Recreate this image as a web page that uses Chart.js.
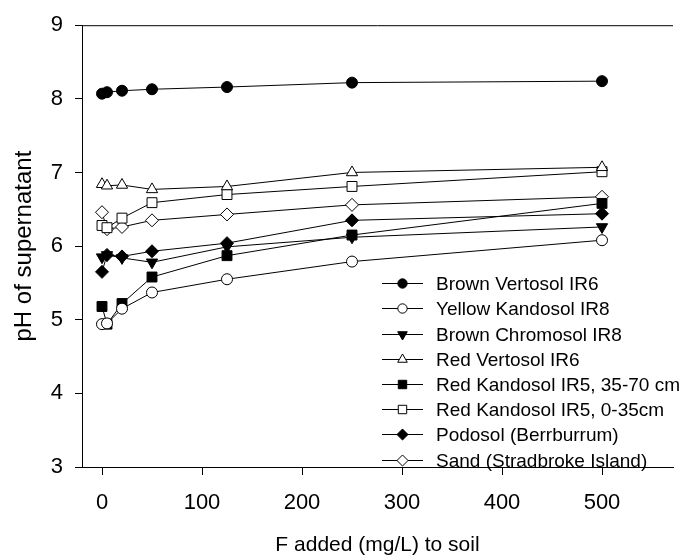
<!DOCTYPE html>
<html>
<head>
<meta charset="utf-8">
<script src="https://cdn.jsdelivr.net/npm/chart.js@4/dist/chart.umd.min.js"></script>
<style>
    html, body { margin: 0; padding: 0; background: #fff; }
    #wrap { width: 691px; height: 558px; }
</style>
</head>
<body>
<div id="wrap"><canvas id="phChart" width="691" height="558"></canvas></div>
<script>
// F added to each soil (mg/L)
const fAdded = [0, 5, 20, 50, 125, 250, 500];

// pH of supernatant per soil
const brownVertosol   = [8.07, 8.09, 8.11, 8.13, 8.16, 8.22, 8.24];
const yellowKandosol  = [4.94, 4.95, 5.15, 5.37, 5.55, 5.79, 6.08];
const brownChromosol  = [5.85, 5.88, 5.84, 5.78, 5.99, 6.12, 6.26];
const redVertosol     = [6.84, 6.82, 6.83, 6.77, 6.81, 7.00, 7.07];
const redKandosolDeep = [5.18, 4.94, 5.22, 5.58, 5.87, 6.15, 6.58];
const redKandosolTop  = [6.28, 6.25, 6.38, 6.59, 6.70, 6.81, 7.01];
const podosol         = [5.65, 5.88, 5.86, 5.93, 6.04, 6.35, 6.44];
const sand            = [6.46, 6.23, 6.26, 6.35, 6.43, 6.56, 6.67];

const seriesNames = [
    'Brown Vertosol IR6',
    'Yellow Kandosol IR8',
    'Brown Chromosol IR8',
    'Red Vertosol IR6',
    'Red Kandosol IR5, 35-70 cm',
    'Red Kandosol IR5, 0-35cm',
    'Podosol (Berrburrum)',
    'Sand (Stradbroke Island)'
];

const xTicks = [0, 100, 200, 300, 400, 500];
const yTicks = [3, 4, 5, 6, 7, 8, 9];

const FONT = "'Liberation Sans', Arial, Helvetica, sans-serif";

// marker look for each series: [pointStyle, rotation, filled, radius]
const markers = [
    ['circle', 0, true, 5.5],
    ['circle', 0, false, 5.5],
    ['triangle', 180, true, 6.5],
    ['triangle', 0, false, 6.5],
    ['rect', 0, true, 7],
    ['rect', 0, false, 7],
    ['rectRot', 0, true, 6.5],
    ['rectRot', 0, false, 6.5]
];

const allSeries = [brownVertosol, yellowKandosol, brownChromosol, redVertosol,
    redKandosolDeep, redKandosolTop, podosol, sand];

const datasets = allSeries.map((vals, i) => {
    const [style, rot, filled, r] = markers[i];
    return {
        label: seriesNames[i],
        data: vals.map((v, j) => ({ x: fAdded[j], y: v })),
        showLine: true,
        borderColor: '#000',
        borderWidth: 1,
        tension: 0,
        pointStyle: style,
        pointRotation: rot,
        pointRadius: r,
        pointHoverRadius: r,
        pointBackgroundColor: filled ? '#000' : '#fff',
        pointBorderColor: '#000',
        pointBorderWidth: 1
    };
});

// top frame line plus the in-plot legend
const framePlugin = {
    id: 'frameAndLegend',
    afterDraw(chart) {
        const ctx = chart.ctx;
        const area = chart.chartArea;
        ctx.save();
        ctx.strokeStyle = '#000';
        ctx.lineWidth = 1;
        ctx.beginPath();
        ctx.moveTo(area.left, area.top + 0.5);
        ctx.lineTo(area.right, area.top + 0.5);
        ctx.stroke();

        const x0 = area.left + 300;
        const y0 = area.top + 258;
        const rowH = 25.2;
        ctx.font = '19px ' + FONT;
        ctx.textBaseline = 'middle';
        ctx.textAlign = 'left';
        chart.data.datasets.forEach((ds, i) => {
            const y = Math.round(y0 + i * rowH) + 0.5;
            ctx.strokeStyle = '#000';
            ctx.beginPath();
            ctx.moveTo(x0, y);
            ctx.lineTo(x0 + 41, y);
            ctx.stroke();
            ctx.fillStyle = ds.pointBackgroundColor;
            ctx.strokeStyle = '#000';
            ctx.lineWidth = 1;
            Chart.helpers.drawPoint(ctx, {
                pointStyle: ds.pointStyle,
                rotation: ds.pointRotation,
                radius: ds.pointRadius * 0.85,
                borderWidth: 1
            }, x0 + 20.5, y);
            ctx.fillStyle = '#000';
            ctx.fillText(ds.label, x0 + 54, y + 1);
        });
        ctx.restore();
    }
};

new Chart(document.getElementById('phChart'), {
    type: 'scatter',
    data: { datasets },
    plugins: [framePlugin],
    options: {
        responsive: false,
        animation: false,
        events: [],
        layout: { padding: { left: 0, top: 22, right: 18, bottom: 0 } },
        plugins: {
            legend: { display: false },
            tooltip: { enabled: false }
        },
        scales: {
            x: {
                type: 'linear',
                min: -20,
                max: 571,
                afterBuildTicks: scale => { scale.ticks = xTicks.map(v => ({ value: v })); },
                afterFit: scale => { scale.height = 91; },
                grid: { drawOnChartArea: false, tickLength: 8, color: '#000' },
                border: { display: true, color: '#000', width: 1 },
                ticks: { color: '#000', padding: 15, font: { family: FONT, size: 22 } },
                title: {
                    display: true,
                    text: 'F added (mg/L) to soil',
                    color: '#000',
                    padding: { top: 0, bottom: 0 },
                    font: { family: FONT, size: 21 }
                }
            },
            y: {
                type: 'linear',
                min: 3,
                max: 9,
                afterBuildTicks: scale => { scale.ticks = yTicks.map(v => ({ value: v })); },
                afterFit: scale => { scale.width = 82; },
                grid: { drawOnChartArea: false, tickLength: 7, color: '#000' },
                border: { display: true, color: '#000', width: 1 },
                ticks: { color: '#000', padding: 12, font: { family: FONT, size: 22 } },
                title: {
                    display: true,
                    text: 'pH of supernatant',
                    color: '#000',
                    padding: { top: 10, bottom: 0 },
                    font: { family: FONT, size: 24 }
                }
            }
        }
    }
});
</script>
</body>
</html>
